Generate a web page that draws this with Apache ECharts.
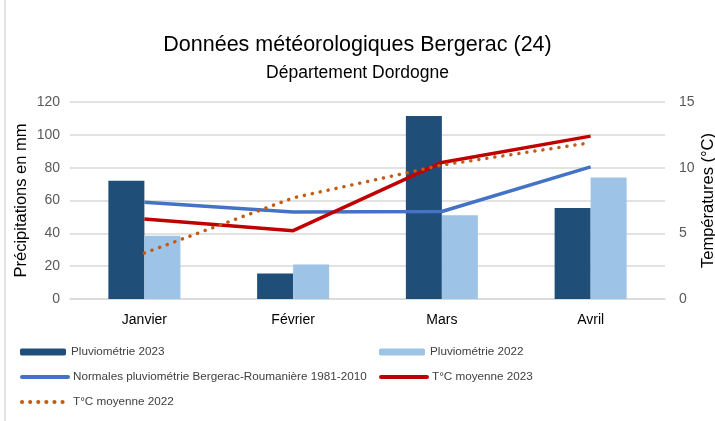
<!DOCTYPE html>
<html>
<head>
<meta charset="utf-8">
<script src="https://cdn.jsdelivr.net/npm/echarts@6/dist/echarts.min.js"></script>
<style>
html,body{margin:0;padding:0;background:#fff;}
#main{width:715px;height:421px;}
</style>
</head>
<body>
<div id="main"></div>
<script>
var months = ['Janvier', 'Février', 'Mars', 'Avril'];
var pluvio2023 = [72, 15.5, 111.5, 55.5];
var pluvio2022 = [38.5, 21, 51, 74];
var normales = [59, 53, 53.3, 80.5];
var temp2023 = [6.1, 5.2, 10.4, 12.4];
var temp2022 = [3.5, 7.7, 10.2, 11.9];

var font = 'Liberation Sans';
var myChart = echarts.init(document.getElementById('main'));

function legendAt(name, left, top, isLine){
    var l = {
        data: [name],
        left: left,
        top: top,
        itemWidth: 46,
        itemHeight: 7,
        itemGap: 5,
        padding: 0,
        textStyle: { fontFamily: font, fontSize: 11.7, color: '#404040' }
    };
    if(isLine){
        l.itemStyle = { opacity: 0 };
        l.lineStyle = { width: 4, cap: 'round' };
    }
    return l;
}

var option = {
    backgroundColor: '#fff',
    animation: false,
    title: [{
        text: 'Données météorologiques Bergerac (24)',
        left: 'center',
        top: 29,
        textStyle: { fontFamily: font, fontSize: 21.5, fontWeight: 'normal', color: '#000' }
    }, {
        text: 'Département Dordogne',
        left: 'center',
        top: 59,
        textStyle: { fontFamily: font, fontSize: 17.5, fontWeight: 'normal', color: '#000' }
    }],
    graphic: [{
        type: 'line',
        shape: { x1: 5, y1: 0, x2: 5, y2: 421 },
        style: { stroke: '#d9d9d9', lineWidth: 1.5 }
    }],
    legend: [
        legendAt('Pluviométrie 2023', 20, 346, false),
        legendAt('Pluviométrie 2022', 379, 346, false),
        legendAt('Normales pluviométrie Bergerac-Roumanière 1981-2010', 20, 371, true),
        legendAt('T°C moyenne 2023', 379, 371, true),
        legendAt('T°C moyenne 2022', 20, 396, true)
    ],
    grid: { left: 70, right: 50, top: 102, bottom: 122, outerBoundsMode: 'none' },
    xAxis: {
        type: 'category',
        data: months,
        axisTick: { show: false },
        axisLine: { lineStyle: { color: '#d9d9d9', width: 1.5 } },
        axisLabel: { fontFamily: font, fontSize: 14, color: '#000', margin: 14 }
    },
    yAxis: [{
        type: 'value',
        min: 0, max: 120, interval: 20,
        name: 'Précipitations en mm',
        nameLocation: 'middle',
        nameGap: 40,
        nameMoveOverlap: false,
        nameTextStyle: { fontFamily: font, fontSize: 16.5, color: '#000' },
        axisLabel: { fontFamily: font, fontSize: 14, color: '#595959', margin: 10 },
        splitLine: { lineStyle: { color: '#d9d9d9', width: 1.5 } }
    }, {
        type: 'value',
        min: 0, max: 15, interval: 5,
        name: 'Températures (°C)',
        nameLocation: 'middle',
        nameGap: 35,
        nameMoveOverlap: false,
        nameRotate: 90,
        nameTextStyle: { fontFamily: font, fontSize: 16.5, color: '#000' },
        axisLabel: { fontFamily: font, fontSize: 14, color: '#595959', margin: 14 },
        splitLine: { show: false }
    }],
    series: [{
        name: 'Pluviométrie 2023',
        type: 'bar',
        data: pluvio2023,
        barWidth: 36,
        barGap: '0%',
        itemStyle: { color: '#1f4e79' }
    }, {
        name: 'Pluviométrie 2022',
        type: 'bar',
        data: pluvio2022,
        barWidth: 36,
        barGap: '0%',
        itemStyle: { color: '#9dc3e6' }
    }, {
        name: 'Normales pluviométrie Bergerac-Roumanière 1981-2010',
        type: 'line',
        data: normales,
        symbol: 'none',
        itemStyle: { color: '#4472c4' },
        lineStyle: { color: '#4472c4', width: 3.5 }
    }, {
        name: 'T°C moyenne 2023',
        type: 'line',
        yAxisIndex: 1,
        data: temp2023,
        symbol: 'none',
        itemStyle: { color: '#c00000' },
        lineStyle: { color: '#c00000', width: 3.5 }
    }, {
        name: 'T°C moyenne 2022',
        type: 'line',
        yAxisIndex: 1,
        data: temp2022,
        symbol: 'none',
        itemStyle: { color: '#c55a11' },
        lineStyle: { color: '#c55a11', width: 3.5, type: [0.1, 8], cap: 'round' }
    }]
};
myChart.setOption(option);
</script>
</body>
</html>
